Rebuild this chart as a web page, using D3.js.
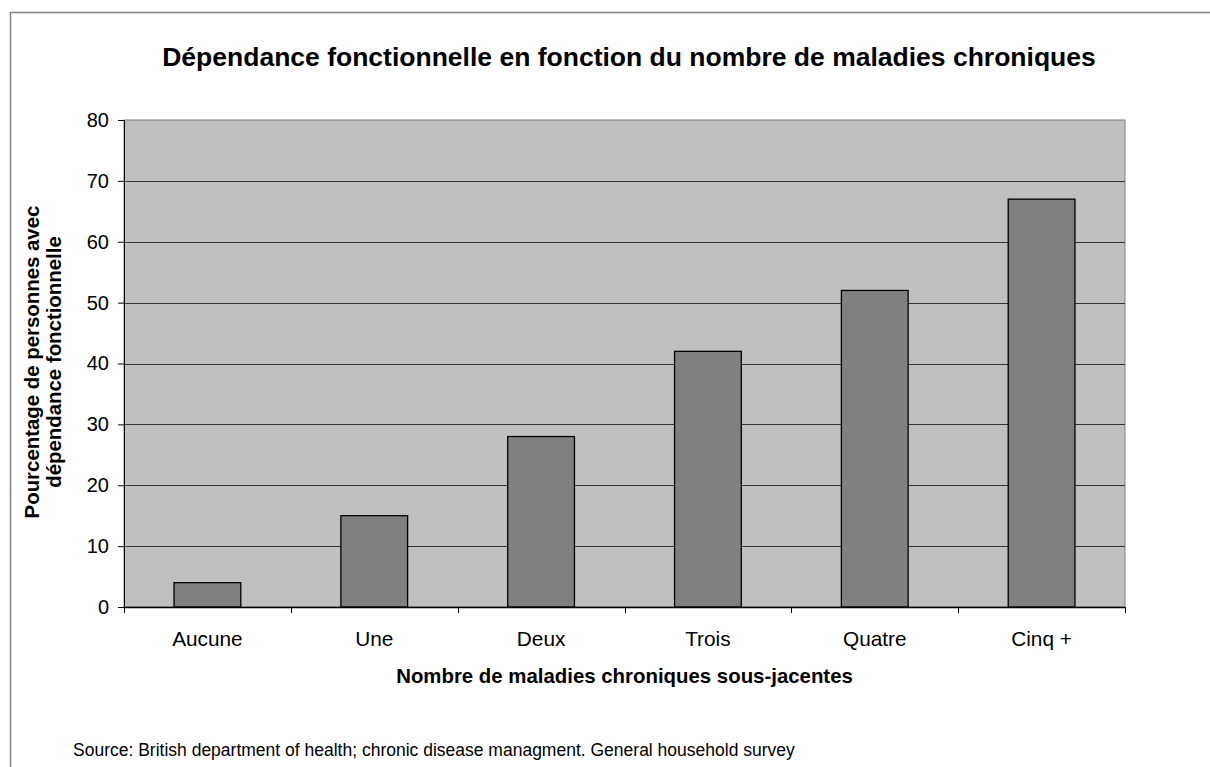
<!DOCTYPE html>
<html>
<head>
<meta charset="utf-8">
<script src="https://cdn.jsdelivr.net/npm/d3@7"></script>
<style>
body { margin:0; background:#fff; }
text { font-family: "Liberation Sans", Arial, sans-serif; fill:#000; }
</style>
</head>
<body>
<svg id="chart"></svg>
<script>
var categories = ["Aucune","Une","Deux","Trois","Quatre","Cinq +"];
var values = [4,15,28,42,52,67];
var yTicks = [0,10,20,30,40,50,60,70,80];

var screen = {width:1210, height:767};
var margins = {top:120, left:124, right:85, bottom:160};
var graph = {
    width: 1125-124,
    height: 607-120
};

var svg = d3.select("#chart")
    .attr("width",screen.width)
    .attr("height",screen.height);

// outer frame
svg.append("rect")
    .attr("x",10.5).attr("y",12.5)
    .attr("width",1220).attr("height",800)
    .attr("fill","none")
    .attr("stroke","#808080")
    .attr("stroke-width",1.5);

var xScale = d3.scaleBand()
    .domain(categories)
    .range([0,graph.width])
    .padding(0);

var yScale = d3.scaleLinear()
    .domain([0,80])
    .range([graph.height,0]);

var g = svg.append("g")
    .attr("transform","translate("+margins.left+","+margins.top+")");

// plot background
g.append("rect")
    .attr("x",0).attr("y",0)
    .attr("width",graph.width).attr("height",graph.height)
    .attr("fill","#c0c0c0")
    .attr("stroke","#808080")
    .attr("stroke-width",1);

// gridlines
g.selectAll(".grid")
    .data(yTicks.filter(function(d){return d>0 && d<80;}))
    .enter()
    .append("line")
    .attr("x1",0).attr("x2",graph.width)
    .attr("y1",function(d){return Math.round(yScale(d))+0.5;})
    .attr("y2",function(d){return Math.round(yScale(d))+0.5;})
    .attr("stroke","#333")
    .attr("stroke-width",1);

// bars
var barW = xScale.bandwidth()*0.4;
g.selectAll(".bar")
    .data(values)
    .enter()
    .append("rect")
    .attr("x",function(d,i){return xScale(categories[i])+(xScale.bandwidth()-barW)/2;})
    .attr("y",function(d){return yScale(d);})
    .attr("width",barW)
    .attr("height",function(d){return graph.height-yScale(d);})
    .attr("fill","#808080")
    .attr("stroke","#000")
    .attr("stroke-width",1.3);

// y axis
var yAxis = d3.axisLeft(yScale)
    .tickValues(yTicks)
    .tickSize(6)
    .tickPadding(9);
var ya = g.append("g").call(yAxis);
ya.select(".domain").attr("stroke","#000").attr("d","M0.5,0V"+graph.height);
ya.selectAll("line").attr("stroke","#000");
ya.selectAll("text")
    .style("font-size","20px")
    .attr("font-family","Liberation Sans, Arial, sans-serif");

// x axis - ticks on band boundaries
var xa = g.append("g")
    .attr("transform","translate(0,"+graph.height+")");
xa.append("line")
    .attr("x1",0).attr("x2",graph.width)
    .attr("y1",0.5).attr("y2",0.5)
    .attr("stroke","#000").attr("stroke-width",1.5);
var bounds = categories.map(function(c){return xScale(c);}).concat([graph.width]);
xa.selectAll(".xt")
    .data(bounds)
    .enter()
    .append("line")
    .attr("x1",function(d){return Math.round(d)+0.5;})
    .attr("x2",function(d){return Math.round(d)+0.5;})
    .attr("y1",0).attr("y2",6)
    .attr("stroke","#000");
xa.selectAll(".xl")
    .data(categories)
    .enter()
    .append("text")
    .attr("x",function(d){return xScale(d)+xScale.bandwidth()/2;})
    .attr("y",39)
    .attr("text-anchor","middle")
    .style("font-size","20.8px")
    .text(function(d){return d;});

// title
svg.append("text")
    .attr("x",629).attr("y",66)
    .attr("text-anchor","middle")
    .style("font-size","26.5px")
    .style("font-weight","bold")
    .text("Dépendance fonctionnelle en fonction du nombre de maladies chroniques");

// x axis title
svg.append("text")
    .attr("x",margins.left+graph.width/2).attr("y",683)
    .attr("text-anchor","middle")
    .style("font-size","20.4px")
    .style("font-weight","bold")
    .text("Nombre de maladies chroniques sous-jacentes");

// y axis title
var yt = svg.append("g")
    .attr("transform","translate(50,362) rotate(-90)");
yt.append("text")
    .attr("x",0).attr("y",-11)
    .attr("text-anchor","middle")
    .style("font-size","20.4px")
    .style("font-weight","bold")
    .text("Pourcentage de personnes avec");
yt.append("text")
    .attr("x",0).attr("y",11)
    .attr("text-anchor","middle")
    .style("font-size","20.4px")
    .style("font-weight","bold")
    .text("dépendance fonctionnelle");

// source
svg.append("text")
    .attr("x",73).attr("y",756)
    .style("font-size","17.5px")
    .text("Source: British department of health; chronic disease managment. General household survey");
</script>
</body>
</html>
